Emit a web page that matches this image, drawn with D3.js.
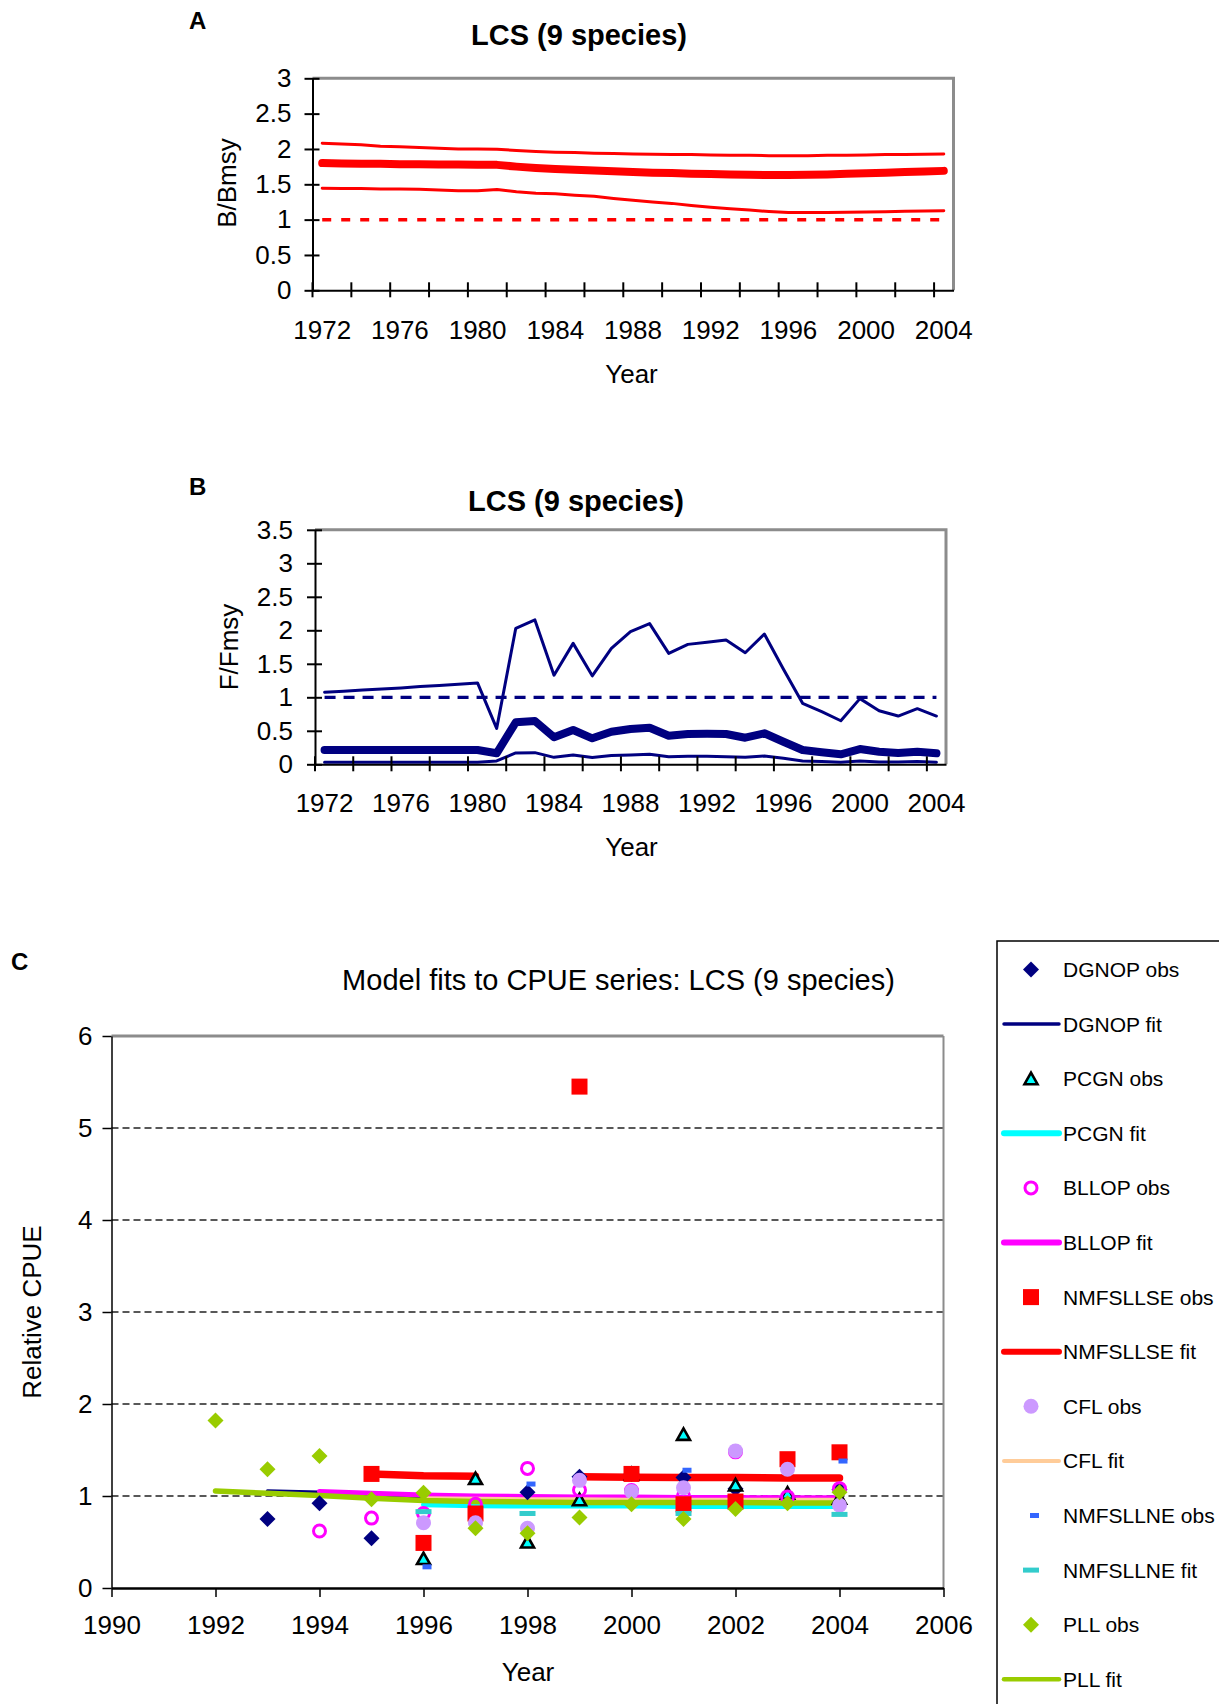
<!DOCTYPE html>
<html><head><meta charset="utf-8">
<script src="https://cdn.jsdelivr.net/npm/d3@7"></script>
<style>
body{margin:0;background:#fff}
svg{display:block}
text{font-family:"Liberation Sans",Arial,Helvetica,sans-serif;fill:#000}
</style>
</head><body>
<svg id="c" width="1219" height="1704"></svg>
<script>
// ---------------- DATA ----------------
const years = [1972,1973,1974,1975,1976,1977,1978,1979,1980,1981,1982,1983,1984,1985,1986,1987,1988,
  1989,1990,1991,1992,1993,1994,1995,1996,1997,1998,1999,2000,2001,2002,2003,2004];
const yearLabels = [1972,1976,1980,1984,1988,1992,1996,2000,2004];
const yearTicks = [1972,1974,1976,1978,1980,1982,1984,1986,1988,1990,1992,1994,1996,1998,2000,2002,2004];

// Panel A : B/Bmsy
const bUpper = [2.08,2.07,2.06,2.04,2.03,2.02,2.01,2.00,2.00,1.995,1.98,1.965,1.955,1.95,1.94,1.935,1.93,
  1.925,1.92,1.92,1.915,1.91,1.91,1.905,1.905,1.905,1.91,1.91,1.915,1.92,1.92,1.925,1.93];
const bMid = [1.80,1.795,1.79,1.79,1.785,1.785,1.78,1.78,1.775,1.775,1.75,1.73,1.715,1.705,1.695,1.685,1.675,
  1.665,1.66,1.65,1.645,1.64,1.635,1.63,1.63,1.635,1.64,1.65,1.655,1.665,1.675,1.68,1.69];
const bLower = [1.445,1.44,1.44,1.435,1.435,1.43,1.42,1.41,1.41,1.425,1.395,1.375,1.365,1.345,1.33,1.30,1.275,
  1.25,1.23,1.20,1.175,1.155,1.135,1.115,1.10,1.10,1.10,1.105,1.108,1.11,1.118,1.122,1.126];
const bTicks = [0,0.5,1,1.5,2,2.5,3];

// Panel B : F/Fmsy
const fUpper = [1.075,1.09,1.11,1.125,1.14,1.16,1.175,1.195,1.215,0.535,2.03,2.155,1.33,1.805,1.32,1.73,1.98,
  2.10,1.655,1.79,1.82,1.855,1.665,1.945,1.42,0.91,0.785,0.65,0.98,0.80,0.72,0.83,0.72];
const fMid = [0.213,0.213,0.213,0.213,0.213,0.213,0.213,0.213,0.213,0.164,0.627,0.646,0.403,0.512,0.388,0.487,0.527,
  0.546,0.427,0.452,0.455,0.452,0.397,0.463,0.337,0.213,0.179,0.149,0.228,0.188,0.169,0.188,0.164];
const fLower = [0.03,0.03,0.03,0.03,0.03,0.03,0.03,0.03,0.03,0.05,0.169,0.174,0.104,0.139,0.10,0.13,0.139,
  0.149,0.114,0.119,0.119,0.114,0.104,0.124,0.09,0.05,0.04,0.03,0.05,0.035,0.035,0.04,0.03];
const fTicks = [0,0.5,1,1.5,2,2.5,3,3.5];
const refValue = 1;

// Panel C : CPUE
const cpueYears = [1992,1993,1994,1995,1996,1997,1998,1999,2000,2001,2002,2003,2004];
const dgnopObs  = [null,0.75,0.92,0.54,null,null,1.04,1.21,1.24,1.20,1.08,0.98,1.07];
const dgnopFit  = [null,1.055,1.04,1.02,0.99,0.98,0.97,0.97,0.965,0.965,0.96,0.96,0.96];
const pcgnObs   = [null,null,null,null,0.32,1.19,0.50,0.96,1.24,1.67,1.12,1.03,0.975];
const pcgnFit   = [null,null,null,null,0.905,0.895,0.89,0.89,0.89,0.885,0.885,0.885,0.885];
const bllopObs  = [null,null,0.62,0.76,0.81,0.91,1.30,1.065,1.06,1.00,1.48,0.99,1.08];
const bllopFit  = [null,null,1.05,1.03,1.01,1.00,0.995,0.99,0.99,0.985,0.985,0.98,0.98];
const nmfsseObs = [null,null,null,1.24,0.49,0.81,null,5.45,1.24,0.91,0.94,1.40,1.475];
const nmfsseFit = [null,null,null,1.24,1.22,1.215,null,1.21,1.205,1.20,1.20,1.195,1.195];
const cflObs    = [null,null,null,null,0.71,0.71,0.65,1.17,1.05,1.09,1.49,1.29,0.90];
const cflFit    = [null,null,null,null,0.975,0.97,0.965,0.965,0.96,0.96,0.96,0.96,0.96];
const nmfsneObs = [null,null,null,null,0.23,null,1.13,null,null,1.28,null,null,1.38];
const nmfsneFit = [null,null,null,null,0.83,null,0.81,null,null,0.81,null,null,0.80];
const pllObs    = [1.82,1.29,1.435,0.965,1.035,0.65,0.595,0.765,0.91,0.75,0.86,0.92,1.04];
const pllFit    = [1.055,1.03,1.005,0.975,0.95,0.94,0.935,0.93,0.93,0.93,0.93,0.925,0.925];
const cpueXTicks = [1990,1992,1994,1996,1998,2000,2002,2004,2006];
const cpueYTicks = [0,1,2,3,4,5,6];

// ---------------- DRAW ----------------
const svg = d3.select('#c');

function label(txt, x, y, size, opts = {}) {
  const t = svg.append('text').attr('x', x).attr('y', y).attr('font-size', size).text(txt);
  if (opts.bold) t.attr('font-weight', 'bold');
  t.attr('text-anchor', opts.anchor || 'middle');
  if (opts.rotate) t.attr('transform', `rotate(-90,${x},${y})`);
  return t;
}

function panelAB(o) {
  const g = svg.append('g');
  const x = d3.scaleBand().domain(years).range([o.left, o.right]);
  const xc = d => x(d) + x.bandwidth() / 2;
  const y = d3.scaleLinear().domain([0, o.ymax]).range([o.bottom, o.top]);

  g.append('path')
    .attr('d', `M${o.left},${o.top}H${o.right}V${o.bottom}`)
    .attr('fill', 'none').attr('stroke', '#8c8c8c').attr('stroke-width', 3);

  g.append('line')
    .attr('x1', xc(years[0])).attr('x2', xc(years[years.length - 1]))
    .attr('y1', y(refValue)).attr('y2', y(refValue))
    .attr('stroke', o.color).attr('stroke-width', o.dashW).attr('stroke-dasharray', o.dash);

  const line = d3.line().x((d, i) => xc(years[i])).y(d => y(d));
  o.series.forEach(s => {
    g.append('path').attr('d', line(s.v)).attr('fill', 'none')
      .attr('stroke', o.color).attr('stroke-width', s.w)
      .attr('stroke-linecap', 'round').attr('stroke-linejoin', 'round');
  });

  const ya = g.append('g').attr('transform', `translate(${o.left},0)`)
    .call(d3.axisLeft(y).tickValues(o.yTicks).tickSize(0).tickSizeOuter(0).tickPadding(o.yPad)
      .tickFormat(d => String(d)));
  ya.select('.domain').attr('stroke', '#000').attr('stroke-width', 2);
  ya.selectAll('.tick text').attr('font-size', 26).attr('font-family', '"Liberation Sans",Arial,sans-serif');
  ya.selectAll('.tick').append('line').attr('x1', -8).attr('x2', 7).attr('stroke', '#000').attr('stroke-width', 2);

  const xa = g.append('g').attr('transform', `translate(0,${o.bottom})`)
    .call(d3.axisBottom(x).tickValues(yearLabels).tickSize(0).tickSizeOuter(0).tickPadding(o.xPad));
  xa.select('.domain').attr('stroke', '#000').attr('stroke-width', 2);
  xa.selectAll('.tick text').attr('font-size', 26).attr('font-family', '"Liberation Sans",Arial,sans-serif');
  xa.selectAll('line.ct').data(yearTicks).join('line').attr('class', 'ct')
    .attr('x1', d => x(d)).attr('x2', d => x(d)).attr('y1', -8).attr('y2', 7)
    .attr('stroke', '#000').attr('stroke-width', 2);
}

// ---- Panel A
label('A', 189, 29, 24, { bold: true, anchor: 'start' });
label('LCS (9 species)', 579, 45, 29, { bold: true });
panelAB({
  left: 312.5, right: 953.5, top: 78.3, bottom: 290.3, ymax: 3, yTicks: bTicks,
  color: '#ff0000', dash: '9,10', dashW: 3.5, yPad: 21, xPad: 30,
  series: [{ v: bUpper, w: 3 }, { v: bMid, w: 8 }, { v: bLower, w: 3 }]
});
label('B/Bmsy', 236, 183, 26, { rotate: true });
label('Year', 631.5, 383, 26);

// ---- Panel B
label('B', 189, 495, 24, { bold: true, anchor: 'start' });
label('LCS (9 species)', 576, 511, 29, { bold: true });
panelAB({
  left: 315, right: 946, top: 529.8, bottom: 764.3, ymax: 3.5, yTicks: fTicks,
  color: '#000080', dash: '11,8', dashW: 3.3, yPad: 22, xPad: 29,
  series: [{ v: fUpper, w: 3 }, { v: fMid, w: 8 }, { v: fLower, w: 3 }]
});
label('F/Fmsy', 238, 647, 26, { rotate: true });
label('Year', 631.5, 856, 26);

// ---- Panel C
label('C', 11, 970, 24, { bold: true, anchor: 'start' });
label('Model fits to CPUE series: LCS (9 species)', 618.5, 990, 29);

const cL = 111.5, cR = 943.5, cT = 1036, cB = 1588;
const cx = d3.scaleLinear().domain([1990, 2006]).range([cL, cR]);
const cy = d3.scaleLinear().domain([0, 6]).range([cB, cT]);
const gc = svg.append('g');

gc.selectAll('line.grid').data(cpueYTicks.filter(v => v > 0 && v < 6)).join('line').attr('class', 'grid')
  .attr('x1', cL).attr('x2', cR).attr('y1', d => cy(d)).attr('y2', d => cy(d))
  .attr('stroke', '#222').attr('stroke-width', 1.3).attr('stroke-dasharray', '7,4');
gc.append('line').attr('x1', cL).attr('x2', cR).attr('y1', cT).attr('y2', cT)
  .attr('stroke', '#8c8c8c').attr('stroke-width', 3);
gc.append('line').attr('x1', cR).attr('x2', cR).attr('y1', cT).attr('y2', cB)
  .attr('stroke', '#8c8c8c').attr('stroke-width', 2);

const markerDefs = {
  diamond: (g, c) => g.append('path').attr('d', 'M0,-8L8,0L0,8L-8,0Z').attr('fill', c),
  triangle: (g, c) => g.append('path').attr('d', 'M0,-6L6.5,5.5L-6.5,5.5Z').attr('fill', c)
      .attr('stroke', '#000').attr('stroke-width', 2.6).attr('stroke-linejoin', 'miter'),
  ring: (g, c) => g.append('circle').attr('r', 6).attr('fill', 'none').attr('stroke', c).attr('stroke-width', 3),
  square: (g, c) => g.append('rect').attr('x', -8).attr('y', -8).attr('width', 16).attr('height', 16).attr('fill', c),
  dot: (g, c) => g.append('circle').attr('r', 7.5).attr('fill', c),
  smalldash: (g, c) => g.append('rect').attr('x', -1).attr('y', -2.5).attr('width', 9).attr('height', 5).attr('fill', c),
  dash: (g, c) => g.append('rect').attr('x', -8).attr('y', -2.5).attr('width', 16).attr('height', 5).attr('fill', c)
};

const series = [
  { name: 'DGNOP obs', type: 'marker', shape: 'diamond', color: '#000080', v: dgnopObs },
  { name: 'DGNOP fit', type: 'line', color: '#000080', w: 3.5, lw: 3.5, v: dgnopFit },
  { name: 'PCGN obs', type: 'marker', shape: 'triangle', color: '#00ffff', v: pcgnObs },
  { name: 'PCGN fit', type: 'line', color: '#00ffff', w: 5, lw: 6, v: pcgnFit },
  { name: 'BLLOP obs', type: 'marker', shape: 'ring', color: '#ff00ff', v: bllopObs },
  { name: 'BLLOP fit', type: 'line', color: '#ff00ff', w: 5, lw: 6, v: bllopFit },
  { name: 'NMFSLLSE obs', type: 'marker', shape: 'square', color: '#ff0000', v: nmfsseObs },
  { name: 'NMFSLLSE fit', type: 'line', color: '#ff0000', w: 7.5, lw: 6, v: nmfsseFit },
  { name: 'CFL obs', type: 'marker', shape: 'dot', color: '#cc99ff', v: cflObs },
  { name: 'CFL fit', type: 'line', color: '#ffcc99', w: 4, lw: 4, v: cflFit },
  { name: 'NMFSLLNE obs', type: 'marker', shape: 'smalldash', color: '#3366ff', v: nmfsneObs },
  { name: 'NMFSLLNE fit', type: 'marker', shape: 'dash', color: '#33cccc', v: nmfsneFit },
  { name: 'PLL obs', type: 'marker', shape: 'diamond', color: '#99cc00', v: pllObs },
  { name: 'PLL fit', type: 'line', color: '#99cc00', w: 5.5, lw: 4.5, v: pllFit }
];

const cline = d3.line().defined(d => d[1] != null).x(d => cx(d[0])).y(d => cy(d[1]));
series.filter(s => s.type === 'line').forEach(s => {
  gc.append('path').attr('d', cline(cpueYears.map((yr, i) => [yr, s.v[i]])))
    .attr('fill', 'none').attr('stroke', s.color).attr('stroke-width', s.w)
    .attr('stroke-linecap', 'round').attr('stroke-linejoin', 'round');
});
series.filter(s => s.type === 'marker').forEach(s => {
  cpueYears.forEach((yr, i) => {
    if (s.v[i] == null) return;
    const m = gc.append('g').attr('transform', `translate(${cx(yr)},${cy(s.v[i])})`);
    markerDefs[s.shape](m, s.color);
  });
});

const cya = gc.append('g').attr('transform', `translate(${cL},0)`)
  .call(d3.axisLeft(cy).tickValues(cpueYTicks).tickSize(9).tickSizeOuter(0).tickPadding(10).tickFormat(d3.format('d')));
cya.select('.domain').attr('stroke', '#000').attr('stroke-width', 1.5);
cya.selectAll('.tick line').attr('stroke', '#000').attr('stroke-width', 1.5);
cya.selectAll('.tick text').attr('font-size', 26).attr('font-family', '"Liberation Sans",Arial,sans-serif');

const cxa = gc.append('g').attr('transform', `translate(0,${cB})`)
  .call(d3.axisBottom(cx).tickValues(cpueXTicks).tickSize(9).tickSizeOuter(0).tickPadding(19).tickFormat(d3.format('d')));
cxa.select('.domain').attr('stroke', '#000').attr('stroke-width', 2.5);
cxa.selectAll('.tick line').attr('stroke', '#000').attr('stroke-width', 1.5);
cxa.selectAll('.tick text').attr('font-size', 26).attr('font-family', '"Liberation Sans",Arial,sans-serif');

label('Relative CPUE', 41, 1312, 26, { rotate: true });
label('Year', 528, 1681, 26);

const lg = svg.append('g');
lg.append('rect').attr('x', 997).attr('y', 941).attr('width', 260).attr('height', 800)
  .attr('fill', '#fff').attr('stroke', '#000').attr('stroke-width', 1.5);
series.forEach((s, i) => {
  const yy = 969.5 + i * 54.6;
  if (s.type === 'line') {
    lg.append('line').attr('x1', 1004).attr('x2', 1059).attr('y1', yy).attr('y2', yy)
      .attr('stroke', s.color).attr('stroke-width', s.lw).attr('stroke-linecap', 'round');
  } else {
    const m = lg.append('g').attr('transform', `translate(1031,${yy})`);
    markerDefs[s.shape](m, s.color);
  }
  lg.append('text').attr('x', 1063).attr('y', yy).attr('dy', '0.36em').attr('font-size', 21).text(s.name);
});
</script>
</body></html>
